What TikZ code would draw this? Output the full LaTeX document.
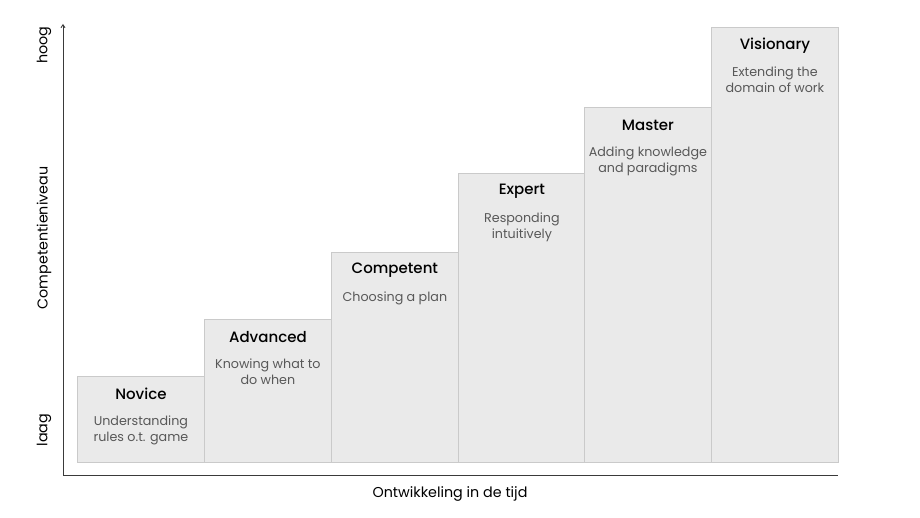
\documentclass[tikz,border=0pt]{standalone}
\usepackage{fontspec}
\setmainfont{Poppins}[BoldFont={Poppins Medium}]
\usetikzlibrary{arrows.meta}
\definecolor{boxfill}{HTML}{EAEAEA}
\definecolor{boxline}{HTML}{CACACA}
\definecolor{desc}{HTML}{585858}
\definecolor{axis}{HTML}{3A3A3A}
\tikzset{
  stage/.style={draw=boxline, fill=boxfill, line width=0.8pt, minimum width=127pt, inner sep=0pt, anchor=south west},
  ttl/.style={font=\fontsize{15}{17}\selectfont\bfseries, text=black, anchor=center},
  dsc/.style={font=\fontsize{12.7}{16}\selectfont, text=desc, align=center, anchor=north},
  axlbl/.style={font=\fontsize{14.3}{16}\selectfont, text=black},
}
\begin{document}
\begin{tikzpicture}[x=1pt,y=-1pt]
\useasboundingbox (0,0) rectangle (920,518);
% stages
\node[stage, minimum height=86pt]  (s1) at (77,463) {};
\node[stage, minimum height=143pt] (s2) at (204,463) {};
\node[stage, minimum height=210pt] (s3) at (331,463) {};
\node[stage, minimum height=289pt] (s4) at (458,463) {};
\node[stage, minimum height=355pt] (s5) at (584,463) {};
\node[stage, minimum height=435pt] (s6) at (711,463) {};
% titles
\node[ttl] (t1) at ([yshift=-18pt]s1.north) {Novice};
\node[ttl] (t2) at ([yshift=-18pt]s2.north) {Advanced};
\node[ttl] (t3) at ([yshift=-18pt]s3.north) {Competent};
\node[ttl] (t4) at ([yshift=-18pt]s4.north) {Expert};
\node[ttl] (t5) at ([yshift=-18pt]s5.north) {Master};
\node[ttl] (t6) at ([yshift=-18pt]s6.north) {Visionary};
% descriptions
\node[dsc] (d1) at ([yshift=-36pt]s1.north) {Understanding\\rules o.t. game};
\node[dsc] (d2) at ([yshift=-36pt]s2.north) {Knowing what to\\do when};
\node[dsc] (d3) at ([yshift=-36pt]s3.north) {Choosing a plan};
\node[dsc] (d4) at ([yshift=-36pt]s4.north) {Responding\\intuitively};
\node[dsc] (d5) at ([yshift=-36pt]s5.north) {Adding knowledge\\and paradigms};
\node[dsc] (d6) at ([yshift=-36pt]s6.north) {Extending the\\domain of work};
% axes
\coordinate (o) at (63,475);
\coordinate (ytop) at (63,24);
\coordinate (xend) at (838,475);
\draw[axis, line width=0.9pt, -{Straight Barb[length=3pt,width=4pt]}] (o) -- (ytop);
\draw[axis, line width=0.9pt] (o) -- (xend);
% axis labels
\node[axlbl, rotate=90] (hoog) at (44,45) {hoog};
\node[axlbl, rotate=90] (comp) at (44,238) {Competentieniveau};
\node[axlbl, rotate=90] (laag) at (44,430) {laag};
\node[axlbl] (xl) at (450,494) {Ontwikkeling in de tijd};
\end{tikzpicture}
\end{document}
